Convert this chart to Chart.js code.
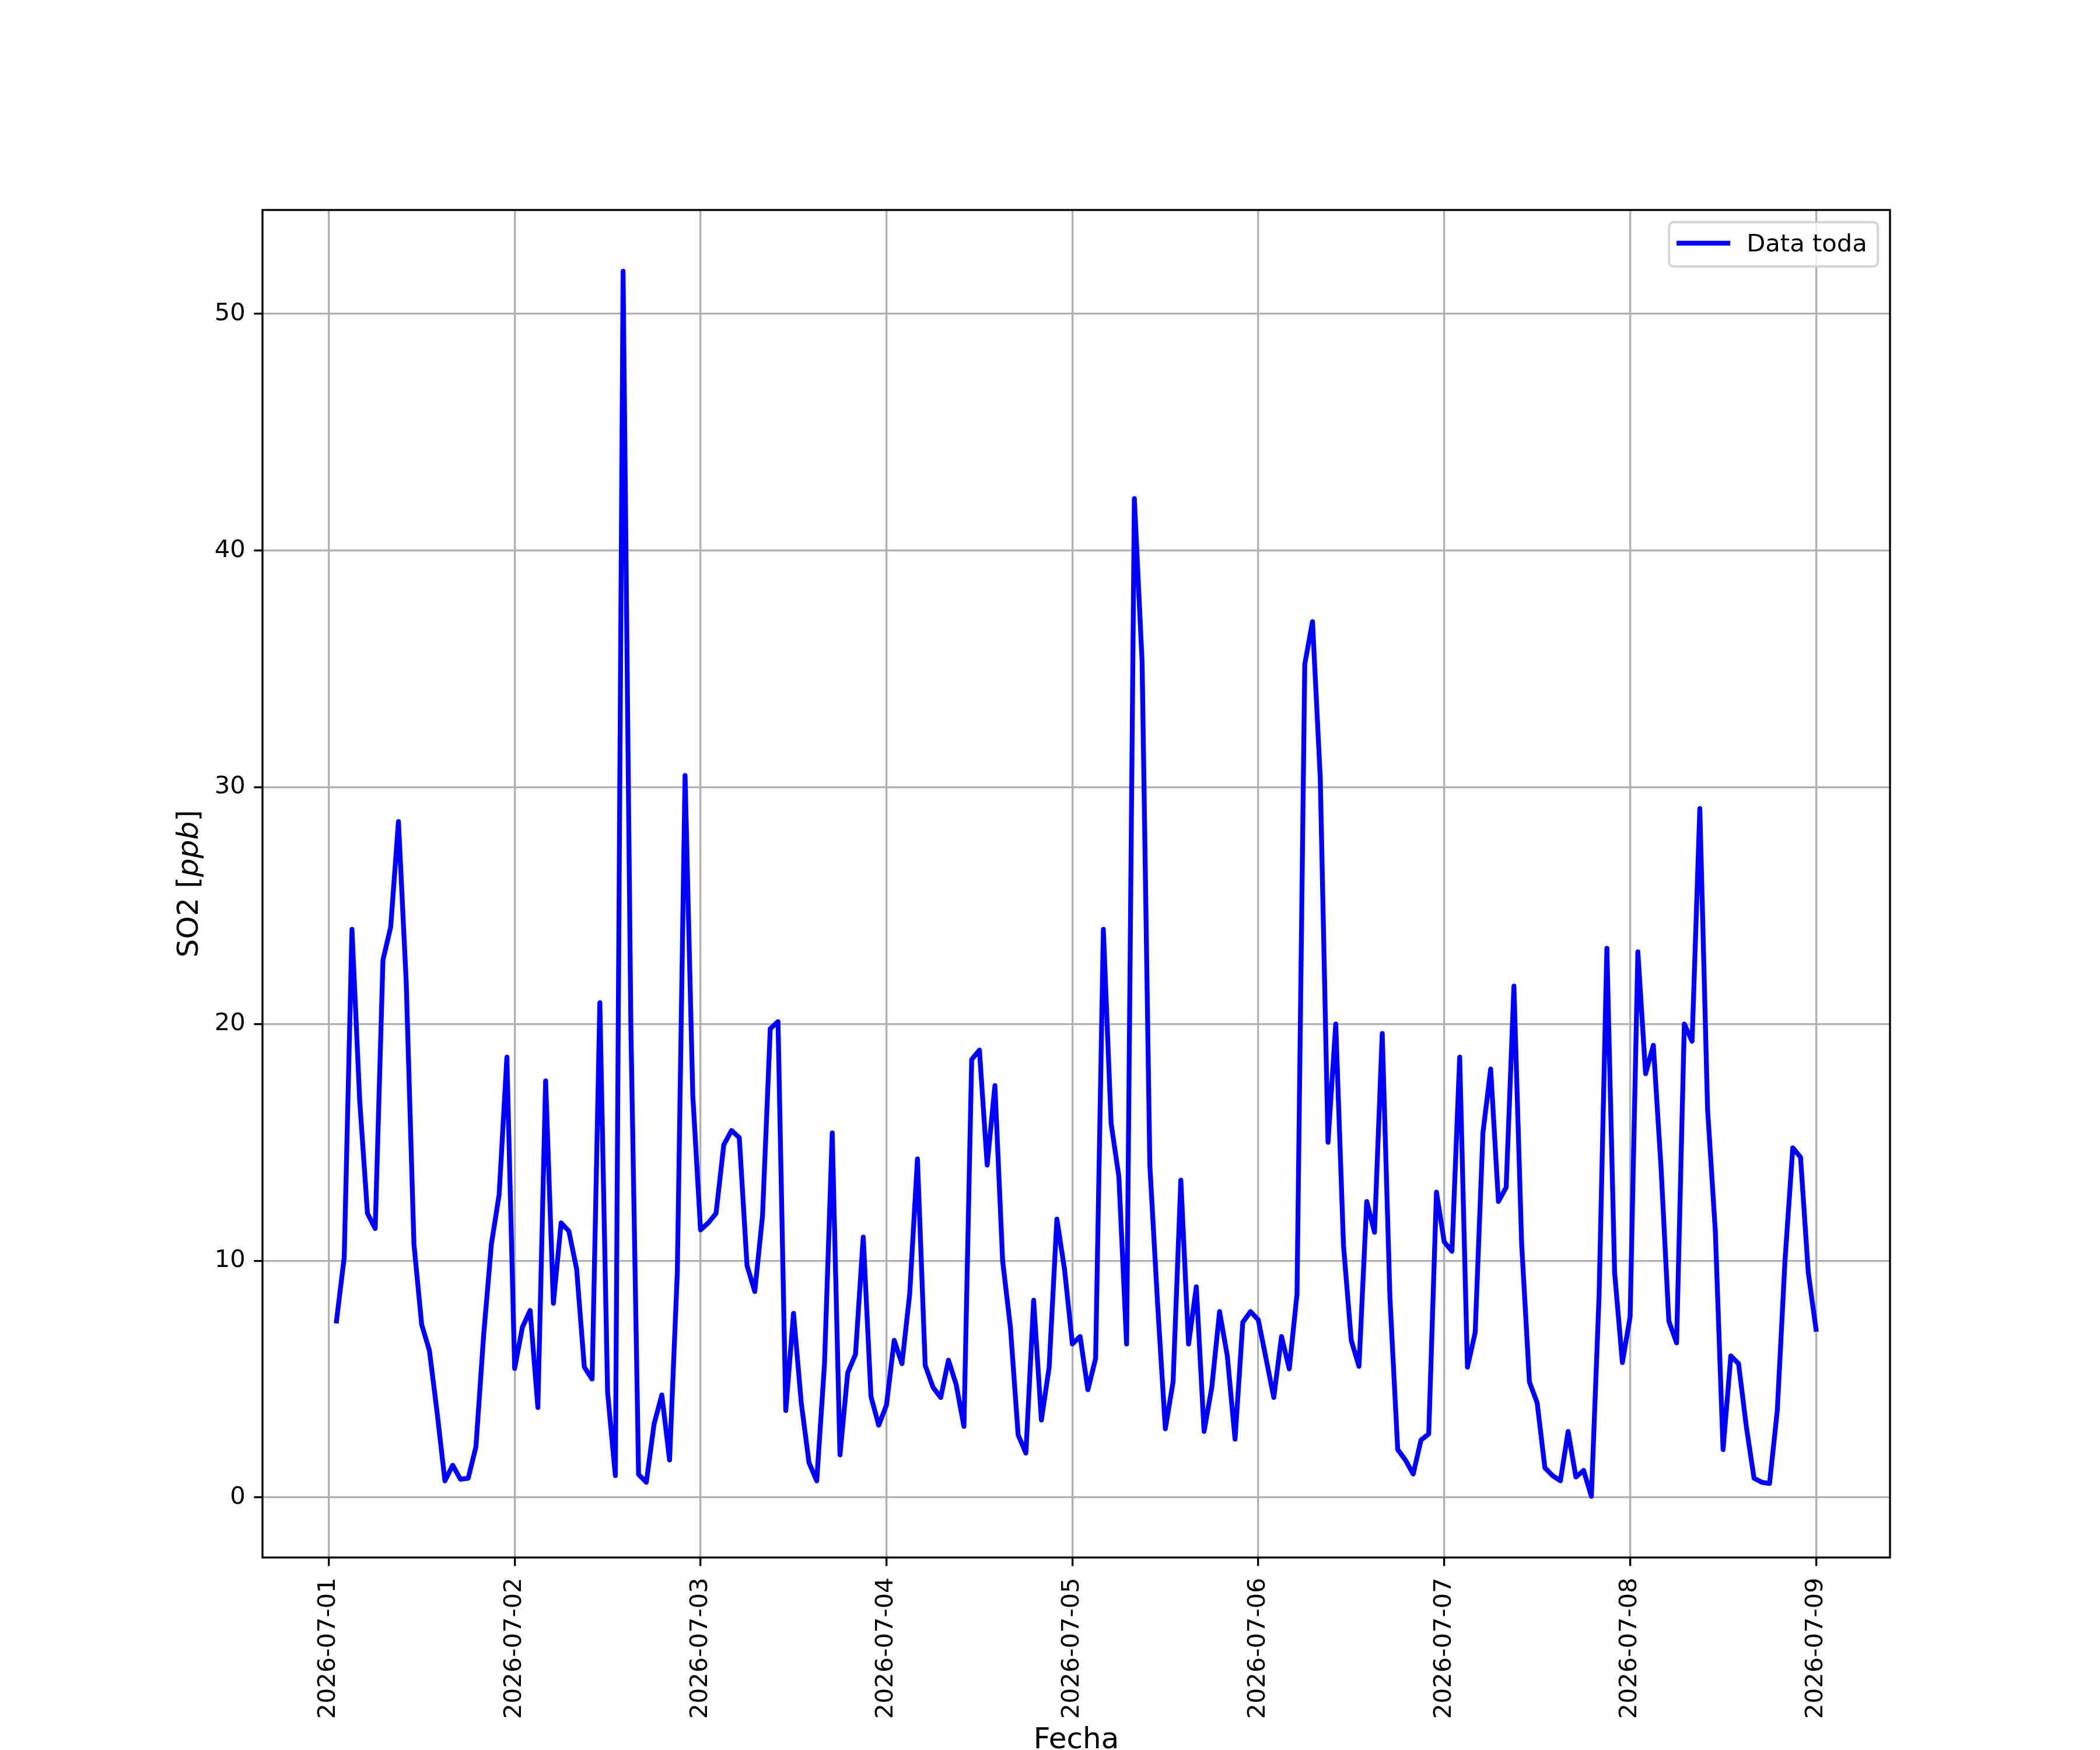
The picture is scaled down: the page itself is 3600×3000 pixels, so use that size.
<!DOCTYPE html>
<html>
<head>
<meta charset="utf-8">
<title>SO2</title>
<script src="https://cdn.jsdelivr.net/npm/chart.js@4.4.1/dist/chart.umd.min.js"></script>
<style>
  html, body { margin: 0; padding: 0; background: #fff; }
  canvas { display: block; }
</style>
</head>
<body>
<canvas id="so2Chart" width="3600" height="3000"></canvas>
<script>
// Tick labels (one per day, at midnight)
const dayLabels = ['2026-07-01', '2026-07-02', '2026-07-03', '2026-07-04', '2026-07-05',
                   '2026-07-06', '2026-07-07', '2026-07-08', '2026-07-09'];
const yTicks = [0, 10, 20, 30, 40, 50];
const seriesLabel = 'Data toda';

// Hourly SO2 [ppb], each row runs 01:00 .. 24:00 of that day
const so2Day1 = [7.45, 10.15, 24.0, 16.75, 12.0, 11.36, 22.7, 24.1, 28.55, 21.8, 10.7, 7.3,
                 6.2, 3.56, 0.7, 1.36, 0.77, 0.81, 2.13, 6.86, 10.7, 12.8, 18.6, 5.45];
const so2Day2 = [7.19, 7.9, 3.8, 17.6, 8.2, 11.6, 11.25, 9.65, 5.5, 5.0, 20.9, 4.44,
                 0.92, 51.8, 20.0, 0.97, 0.64, 3.1, 4.33, 1.58, 9.5, 30.5, 16.97, 11.3];
const so2Day3 = [11.6, 12.0, 14.9, 15.5, 15.2, 9.8, 8.7, 11.9, 19.8, 20.1, 3.67, 7.78,
                 4.0, 1.47, 0.7, 5.65, 15.4, 1.8, 5.27, 6.04, 11.0, 4.26, 3.05, 3.9];
const so2Day4 = [6.64, 5.65, 8.6, 14.3, 5.58, 4.66, 4.22, 5.8, 4.77, 3.0, 18.5, 18.9,
                 14.04, 17.4, 9.98, 7.19, 2.64, 1.87, 8.33, 3.27, 5.5, 11.76, 9.6, 6.48];
const so2Day5 = [6.8, 4.55, 5.87, 24.0, 15.8, 13.56, 6.48, 42.2, 35.3, 14.04, 8.18, 2.9,
                 4.88, 13.4, 6.48, 8.9, 2.79, 4.66, 7.85, 5.98, 2.46, 7.4, 7.85, 7.5];
const so2Day6 = [5.87, 4.22, 6.8, 5.43, 8.6, 35.2, 37.0, 30.4, 15.0, 20.0, 10.64, 6.64,
                 5.54, 12.5, 11.2, 19.6, 8.4, 2.02, 1.58, 0.99, 2.42, 2.68, 12.9, 10.8];
const so2Day7 = [10.4, 18.6, 5.5, 6.97, 15.4, 18.1, 12.5, 13.1, 21.6, 10.7, 4.88, 4.0,
                 1.25, 0.92, 0.7, 2.79, 0.86, 1.14, 0.05, 8.6, 23.2, 9.5, 5.7, 7.63];
const so2Day8 = [23.05, 17.9, 19.1, 13.9, 7.45, 6.53, 20.0, 19.27, 29.1, 16.4, 11.25, 2.02,
                 5.98, 5.65, 3.0, 0.81, 0.64, 0.59, 3.67, 10.04, 14.77, 14.37, 9.5, 7.1];

const so2Values = [].concat(so2Day1, so2Day2, so2Day3, so2Day4, so2Day5, so2Day6, so2Day7, so2Day8);

// x in hours since 2026-07-01 00:00
const points = so2Values.map((v, i) => ({ x: i + 1, y: v }));

// matplotlib-like 5% margins
const xFirst = 1, xLast = so2Values.length;
const xPad = 0.05 * (xLast - xFirst);
const yLo = Math.min(...so2Values), yHi = Math.max(...so2Values);
const yPad = 0.05 * (yHi - yLo);

const PT = 300 / 72;
const FONT = 'DejaVu Sans';

const axesDecor = {
    id: 'axesDecor',
    afterDatasetsDraw(chart) {
        const { ctx, chartArea: a } = chart;
        ctx.save();
        // frame
        ctx.strokeStyle = '#000';
        ctx.lineWidth = 0.8 * PT;
        ctx.strokeRect(a.left, a.top, a.right - a.left, a.bottom - a.top);

        // legend, upper right
        const bw = 358, bh = 76;
        const bx = a.right - 20.8 - bw, by = a.top + 20.8;
        ctx.beginPath();
        ctx.roundRect(bx, by, bw, bh, 8);
        ctx.fillStyle = 'rgba(255,255,255,0.8)';
        ctx.fill();
        ctx.strokeStyle = 'rgba(204,204,204,0.8)';
        ctx.lineWidth = 1.0 * PT;
        ctx.stroke();
        ctx.beginPath();
        ctx.moveTo(bx + 13, by + 36);
        ctx.lineTo(bx + 105, by + 36);
        ctx.strokeStyle = '#0000ff';
        ctx.lineWidth = 2 * PT;
        ctx.lineCap = 'butt';
        ctx.stroke();
        ctx.fillStyle = '#000';
        ctx.font = `${10 * PT}px "${FONT}"`;
        ctx.textBaseline = 'alphabetic';
        ctx.textAlign = 'left';
        ctx.fillText(seriesLabel, bx + 133, by + 50);

        // y label: SO2 [ppb] with italic ppb
        const parts = [
            ['SO2 [', `${12 * PT}px "${FONT}"`],
            ['ppb', `italic ${12 * PT}px "${FONT}"`],
            [']', `${12 * PT}px "${FONT}"`]
        ];
        let total = 0;
        parts.forEach(p => { ctx.font = p[1]; total += ctx.measureText(p[0]).width; });
        ctx.translate(339, (a.top + a.bottom) / 2);
        ctx.rotate(-Math.PI / 2);
        let cx = -total / 2;
        parts.forEach(p => {
            ctx.font = p[1];
            ctx.fillText(p[0], cx, 0);
            cx += ctx.measureText(p[0]).width;
        });
        ctx.restore();
    }
};

function initSo2Chart() {
    const ctx = document.getElementById('so2Chart').getContext('2d');
    new Chart(ctx, {
        type: 'line',
        data: {
            datasets: [{
                label: seriesLabel,
                data: points,
                borderColor: '#0000ff',
                borderWidth: 2 * PT,
                pointRadius: 0,
                tension: 0,
                fill: false,
                borderJoinStyle: 'round',
                borderCapStyle: 'square'
            }]
        },
        options: {
            responsive: false,
            devicePixelRatio: 1,
            animation: false,
            layout: { padding: { left: 0, right: 360, top: 360, bottom: 0 } },
            plugins: {
                legend: { display: false },
                tooltip: { enabled: false }
            },
            scales: {
                x: {
                    type: 'linear',
                    min: xFirst - xPad,
                    max: xLast + xPad,
                    afterBuildTicks: (s) => { s.ticks = dayLabels.map((d, i) => ({ value: i * 24 })); },
                    afterFit: (s) => { s.height = 330; },
                    ticks: {
                        autoSkip: false,
                        minRotation: 90,
                        maxRotation: 90,
                        padding: 20,
                        color: '#000',
                        font: { family: FONT, size: 10 * PT },
                        callback: (v) => dayLabels[Math.round(v / 24)]
                    },
                    grid: {
                        color: '#b0b0b0',
                        lineWidth: 0.8 * PT,
                        tickColor: '#000',
                        tickWidth: 0.8 * PT,
                        tickLength: 3.5 * PT
                    },
                    border: { display: false },
                    title: {
                        display: true,
                        text: 'Fecha',
                        color: '#000',
                        font: { family: FONT, size: 12 * PT, lineHeight: 1 },
                        padding: { top: 0, bottom: -9 }
                    }
                },
                y: {
                    min: yLo - yPad,
                    max: yHi + yPad,
                    afterBuildTicks: (s) => { s.ticks = yTicks.map(v => ({ value: v })); },
                    afterFit: (s) => { s.width = 450; },
                    ticks: {
                        padding: 3.5 * PT,
                        color: '#000',
                        font: { family: FONT, size: 10 * PT }
                    },
                    grid: {
                        color: '#b0b0b0',
                        lineWidth: 0.8 * PT,
                        tickColor: '#000',
                        tickWidth: 0.8 * PT,
                        tickLength: 3.5 * PT
                    },
                    border: { display: false }
                }
            }
        },
        plugins: [axesDecor]
    });
}

document.addEventListener('DOMContentLoaded', () => {
    initSo2Chart();
});
</script>
</body>
</html>
